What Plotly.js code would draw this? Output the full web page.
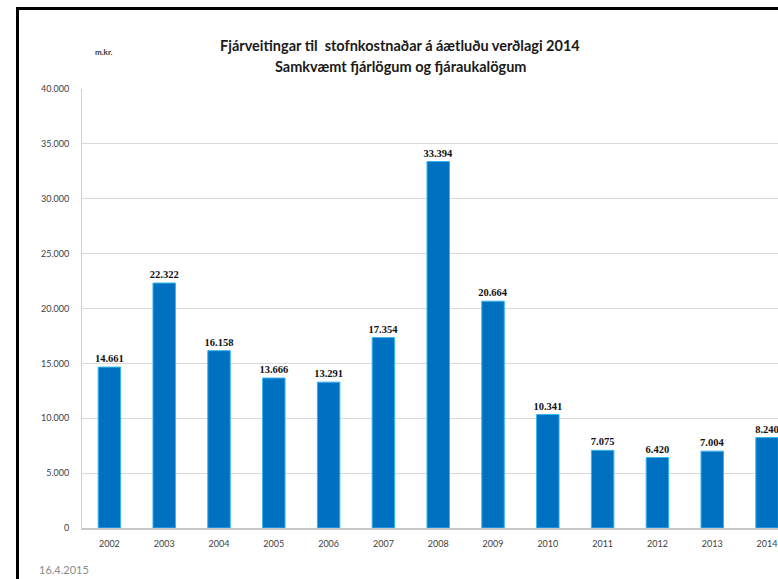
<!DOCTYPE html>
<html>
<head>
<meta charset="utf-8">
<script src="https://cdn.plot.ly/plotly-3.0.1.min.js"></script>
<style>
html,body{margin:0;padding:0;width:778px;height:579px;overflow:hidden;background:#fff;}
#wrap{position:relative;width:778px;height:579px;}
#chart{position:absolute;left:0;top:0;width:778px;height:579px;}
#frame{position:absolute;left:16px;top:7px;width:800px;height:600px;border-left:3px solid #000;border-top:3px solid #000;pointer-events:none;}
</style>
</head>
<body>
<div id="wrap"><div id="chart"></div><div id="frame"></div></div>
<script>
const years = ['2002','2003','2004','2005','2006','2007','2008','2009','2010','2011','2012','2013','2014'];
const values = [14661, 22322, 16158, 13666, 13291, 17354, 33394, 20664, 10341, 7075, 6420, 7004, 8240];
const yTicks = [0, 5000, 10000, 15000, 20000, 25000, 30000, 35000, 40000];
const titleLine1 = 'Fjárveitingar til  stofnkostnaðar á áætluðu verðlagi 2014';
const titleLine2 = 'Samkvæmt fjárlögum og fjáraukalögum';
const unitLabel = 'm.kr.';
const dateLabel = '16.4.2015';

const sans = 'Lato, "Open Sans", "DejaVu Sans", sans-serif';
const trace = {
  type: 'bar',
  x: years,
  y: values,
  marker: {color: '#0070C0', line: {color: '#33B6F2', width: 1}},
  texttemplate: '<b>%{y:,d}</b>',
  textposition: 'outside',
  constraintext: 'none',
  cliponaxis: false,
  textfont: {family: '"Liberation Serif", "Times New Roman", serif', size: 10.5, color: '#111'},
  outsidetextfont: {family: '"Liberation Serif", "Times New Roman", serif', size: 10.5, color: '#111'},
  hoverinfo: 'none'
};
const layout = {
  width: 778, height: 579,
  margin: {l: 82, r: 0, t: 89, b: 51},
  separators: ',.',
  paper_bgcolor: '#fff', plot_bgcolor: '#fff',
  showlegend: false,
  bargap: 0.59,
  font: {family: sans, color: '#404040'},
  xaxis: {
    type: 'category',
    range: [-0.5, 12.2],
    showgrid: false,
    showline: true, linecolor: '#c8c8c8', linewidth: 2,
    ticks: '', tickfont: {size: 9, color: '#404040', family: sans},
    ticklabelstandoff: 6,
    fixedrange: true
  },
  yaxis: {
    range: [0, 40000],
    tickvals: yTicks,
    tickformat: ',d',
    showgrid: true, gridcolor: '#d9d9d9', gridwidth: 1,
    zeroline: false,
    showline: true, linecolor: '#d0d0d0', linewidth: 1,
    ticks: '', tickfont: {size: 9, color: '#404040', family: sans},
    ticklabelstandoff: 10,
    fixedrange: true
  },
  annotations: [
    {text: '<b>' + titleLine1 + '</b>', xref: 'paper', yref: 'paper', x: 0.457, y: 1.098, xanchor: 'center', yanchor: 'middle', showarrow: false, font: {family: sans, size: 14.5, color: '#1a1a1a'}},
    {text: '<b>' + titleLine2 + '</b>', xref: 'paper', yref: 'paper', x: 0.457, y: 1.052, xanchor: 'center', yanchor: 'middle', showarrow: false, font: {family: sans, size: 14.5, color: '#1a1a1a'}},
    {text: '<b>' + unitLabel + '</b>', xref: 'paper', yref: 'paper', x: 0.0316, y: 1.084, xanchor: 'center', yanchor: 'middle', showarrow: false, font: {family: sans, size: 8, color: '#333'}},
    {text: dateLabel, xref: 'paper', yref: 'paper', x: -0.0647, y: -0.095, xanchor: 'left', yanchor: 'middle', showarrow: false, font: {family: sans, size: 11, color: '#8a8a8a'}}
  ]
};
Plotly.newPlot('chart', [trace], layout, {staticPlot: true, displayModeBar: false});
</script>
</body>
</html>
